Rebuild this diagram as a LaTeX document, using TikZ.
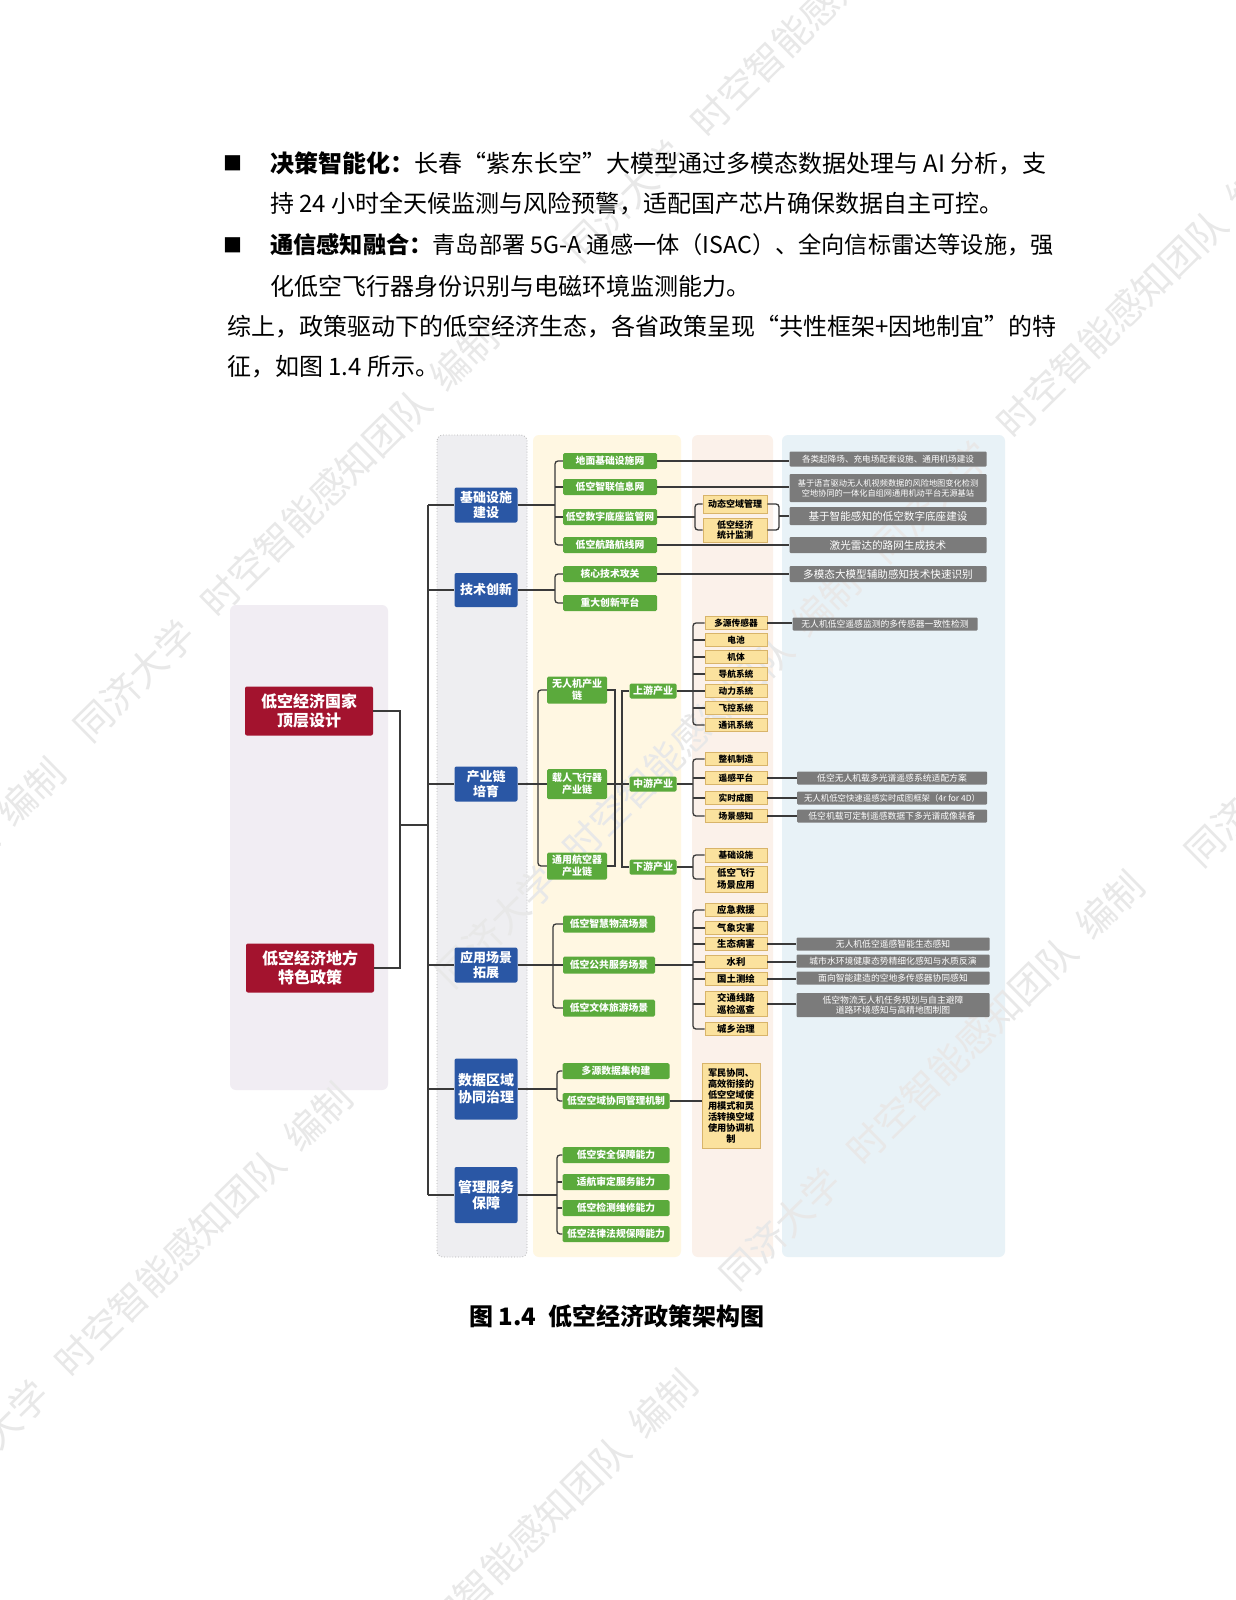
\documentclass[tikz,border=0pt]{standalone}
\usepackage{fontspec}
\setmainfont{Noto Sans CJK SC}
\newcommand\fsz[1]{\fontsize{#1pt}{\dimexpr#1pt*6/5\relax}\selectfont}
\definecolor{gn}{HTML}{5BAA3C}
\definecolor{bl}{HTML}{2A57A5}
\definecolor{rd}{HTML}{A3132E}
\definecolor{yl}{HTML}{FBE29E}
\definecolor{ylb}{HTML}{D8B46A}
\definecolor{gy}{HTML}{7B7B7B}
\definecolor{ln}{HTML}{3A3A3A}
\definecolor{plA}{HTML}{F1EDF3}
\definecolor{plB}{HTML}{EEEEF1}
\definecolor{plC}{HTML}{FFF7E2}
\definecolor{plD}{HTML}{FBF1EA}
\definecolor{plE}{HTML}{E8F2F7}
\tikzset{
 box/.style={inner sep=0pt, align=center, rounded corners=1.5pt},
 gbox/.style={box, fill=gn, text=white, font=\bfseries\fsz{9.8}, minimum height=16pt},
 bbox/.style={box, fill=bl, text=white, font=\bfseries\fsz{13}, minimum width=63pt, rounded corners=2pt},
 rbox/.style={box, fill=rd, text=white, font=\bfseries\fsz{16}, minimum width=128pt, minimum height=49pt, rounded corners=2pt},
 ybox/.style={box, fill=yl, draw=ylb, line width=0.6pt, text=black, font=\bfseries\fsz{8.7}, minimum width=62pt, minimum height=13pt, rounded corners=0pt},
 ebox/.style={box, fill=gy, text=white, font=\fsz{8.6}, rounded corners=1pt},
 conn/.style={draw=ln, line width=1.3pt},
 brk/.style={conn, rounded corners=3pt},
 panel/.style={rounded corners=6pt},
 wm/.style={rotate=44.5, anchor=west, text=black!9, font=\fsz{38}, inner sep=0pt},
 txt/.style={anchor=west, inner sep=0pt, font=\fsz{24}},
}
\newcommand\wmtext{同济大学\hspace{26pt}时空智能感知团队\hspace{18pt}编制}
\begin{document}
\begin{tikzpicture}[x=1pt,y=-1pt]
\useasboundingbox (0,0) rectangle (1236,1600);
\fill[white] (0,0) rectangle (1236,1600);

% ---- panels
\fill[plA, panel] (230,605) rectangle (388,1090);
\filldraw[fill=plB, draw=black!30, dotted, line width=0.8pt, panel] (437,435) rectangle (527,1257);
\fill[plC, panel] (533,435) rectangle (681,1257);
\fill[plD, panel] (692,435) rectangle (773,1257);
\fill[plE, panel] (782,435) rectangle (1005,1257);

% ---- watermarks
\node[wm] (wa) at (80,734) {\wmtext};
\node[wm] (wb) at (442,980) {\wmtext};
\node[wm] (wc) at (570,254) {\wmtext};
\node[wm] (wd) at (876,555) {\wmtext};
\node[wm] (we) at (-353,1169) {\wmtext};
\node[wm] (wf) at (-66,1494) {\wmtext};
\node[wm] (wg) at (726,1282) {\wmtext};
\node[wm] (wh) at (279,1781) {\wmtext};
\node[wm] (wi) at (1191,859) {\wmtext};

% ---- body text
\node[font=\fsz{19}, inner sep=0pt] (bu1) at (233,163) {■};
\node[txt] (t1) at (270,163) {\textbf{决策智能化：}长春“紫东长空”大模型通过多模态数据处理与 AI 分析，支};
\node[txt] (t2) at (270,204) {持 24 小时全天候监测与风险预警，适配国产芯片确保数据自主可控。};
\node[font=\fsz{19}, inner sep=0pt] (bu2) at (233,245) {■};
\node[txt, font=\fsz{23.2}] (t3) at (270,245) {\textbf{通信感知融合：}青岛部署 5G-A 通感一体（ISAC）、全向信标雷达等设施，强};
\node[txt] (t4) at (270,286) {化低空飞行器身份识别与电磁环境监测能力。};
\node[txt] (t5) at (227,327) {综上，政策驱动下的低空经济生态，各省政策呈现“共性框架+因地制宜”的特};
\node[txt] (t6) at (227,367) {征，如图 1.4 所示。};
\node[font=\bfseries\fsz{24}, inner sep=0pt] (cap) at (617,1316) {图 1.4\hspace{12pt}低空经济政策架构图};

% ---- red
\node[rbox] (r1) at (309,711) {低空经济国家\\顶层设计};
\node[rbox] (r2) at (310,968) {低空经济地方\\特色政策};

% ---- blue
\node[bbox, minimum height=35pt] (b1) at (486,505) {基础设施\\建设};
\node[bbox, minimum height=34pt] (b2) at (486,590) {技术创新};
\node[bbox, minimum height=35pt] (b3) at (486,784) {产业链\\培育};
\node[bbox, minimum height=35pt] (b4) at (486,965) {应用场景\\拓展};
\node[bbox, minimum height=61pt, font=\bfseries\fsz{14}] (b5) at (486,1089) {数据区域\\协同治理};
\node[bbox, minimum height=56pt, font=\bfseries\fsz{14}] (b6) at (486,1195) {管理服务\\保障};

% ---- green
\node[gbox, minimum width=94pt] (g1) at (610,461) {地面基础设施网};
\node[gbox, minimum width=94pt] (g2) at (610,487) {低空智联信息网};
\node[gbox, minimum width=94pt] (g3) at (610,517) {低空数字底座监管网};
\node[gbox, minimum width=94pt] (g4) at (610,545) {低空航路航线网};
\node[gbox, minimum width=94pt] (g5) at (610,574) {核心技术攻关};
\node[gbox, minimum width=94pt] (g6) at (610,603) {重大创新平台};

\node[gbox, minimum width=60pt, minimum height=27pt, font=\bfseries\fsz{10}] (c1) at (577,690) {无人机产业\\链};
\node[gbox, minimum width=60pt, minimum height=30pt, font=\bfseries\fsz{10}] (c2) at (577,784) {载人飞行器\\产业链};
\node[gbox, minimum width=60pt, minimum height=27pt, font=\bfseries\fsz{10}] (c3) at (577,866) {通用航空器\\产业链};
\node[gbox, minimum width=47pt, minimum height=15pt, font=\bfseries\fsz{10}] (s1) at (653,691) {上游产业};
\node[gbox, minimum width=47pt, minimum height=15pt, font=\bfseries\fsz{10}] (s2) at (653,784) {中游产业};
\node[gbox, minimum width=47pt, minimum height=15pt, font=\bfseries\fsz{10}] (s3) at (653,867) {下游产业};

\node[gbox, minimum width=92pt, minimum height=17pt] (sc1) at (609,924) {低空智慧物流场景};
\node[gbox, minimum width=92pt, minimum height=17pt] (sc2) at (609,965) {低空公共服务场景};
\node[gbox, minimum width=92pt, minimum height=17pt] (sc3) at (609,1008) {低空文体旅游场景};

\node[gbox, minimum width=107pt] (d1) at (616,1071) {多源数据集构建};
\node[gbox, minimum width=107pt] (d2) at (616,1101) {低空空域协同管理机制};
\node[gbox, minimum width=107pt] (m1) at (616,1155) {低空安全保障能力};
\node[gbox, minimum width=107pt] (m2) at (616,1182) {适航审定服务能力};
\node[gbox, minimum width=107pt] (m3) at (616,1208) {低空检测维修能力};
\node[gbox, minimum width=107pt] (m4) at (616,1234) {低空法律法规保障能力};

% ---- yellow
\node[ybox, minimum width=64pt, minimum height=18pt, font=\bfseries\fsz{9}] (ya) at (735,504) {动态空域管理};
\node[ybox, minimum width=64pt, minimum height=24pt, font=\bfseries\fsz{9}] (yb) at (735,530) {低空经济\\统计监测};

\node[ybox] (u1) at (736,623) {多源传感器};
\node[ybox] (u2) at (736,640) {电池};
\node[ybox] (u3) at (736,657) {机体};
\node[ybox] (u4) at (736,674) {导航系统};
\node[ybox] (u5) at (736,691) {动力系统};
\node[ybox] (u6) at (736,708) {飞控系统};
\node[ybox] (u7) at (736,725) {通讯系统};

\node[ybox] (v1) at (736,759) {整机制造};
\node[ybox] (v2) at (736,778) {遥感平台};
\node[ybox] (v3) at (736,798) {实时成图};
\node[ybox] (v4) at (736,816) {场景感知};

\node[ybox, minimum height=14pt] (w1) at (736,855) {基础设施};
\node[ybox, minimum height=26pt, font=\bfseries\fsz{9.4}] (w2) at (736,879) {低空飞行\\场景应用};

\node[ybox, font=\bfseries\fsz{9.4}] (k1) at (736,910) {应急救援};
\node[ybox, font=\bfseries\fsz{9.4}] (k2) at (736,928) {气象灾害};
\node[ybox, font=\bfseries\fsz{9.4}] (k3) at (736,944) {生态病害};
\node[ybox, font=\bfseries\fsz{9.4}] (k4) at (736,962) {水利};
\node[ybox, font=\bfseries\fsz{9.4}] (k5) at (736,979) {国土测绘};
\node[ybox, minimum height=25pt, font=\bfseries\fsz{9.4}] (k6) at (736,1004) {交通线路\\巡检巡查};
\node[ybox, font=\bfseries\fsz{9.4}] (k7) at (736,1029) {城乡治理};

\node[ybox, minimum width=58pt, minimum height=85pt, font=\bfseries\fsz{9.2}] (tall) at (731,1106) {军民协同、\\高效衔接的\\低空空域使\\用模式和灵\\活转换空域\\使用协调机\\制};

% ---- grey
\node[ebox, minimum width=197pt, minimum height=15pt] (q1) at (888,459) {各类起降场、充电场配套设施、通用机场建设};
\node[ebox, minimum width=197pt, minimum height=28pt, font=\fsz{8.2}] (q2) at (888,488) {基于语言驱动无人机视频数据的风险地图变化检测\\空地协同的一体化自组网通用机动平台无源基站};
\node[ebox, minimum width=197pt, minimum height=18pt, font=\fsz{10.6}] (q3) at (888,516) {基于智能感知的低空数字底座建设};
\node[ebox, minimum width=197pt, minimum height=16pt, font=\fsz{10.6}] (q4) at (888,545) {激光雷达的路网生成技术};
\node[ebox, minimum width=197pt, minimum height=16pt, font=\fsz{10.6}] (q5) at (888,574) {多模态大模型辅助感知技术快速识别};

\node[ebox, minimum width=185pt, minimum height=13pt, font=\fsz{8.8}] (qu1) at (885,624) {无人机低空遥感监测的多传感器一致性检测};
\node[ebox, minimum width=190pt, minimum height=13pt, font=\fsz{8.8}] (qm2) at (892,778) {低空无人机载多光谱遥感系统适配方案};
\node[ebox, minimum width=190pt, minimum height=13pt, font=\fsz{8.4}] (qm3) at (892,798) {无人机低空快速遥感实时成图框架（4r for 4D）};
\node[ebox, minimum width=190pt, minimum height=13pt, font=\fsz{8.8}] (qm4) at (892,816) {低空机载可定制遥感数据下多光谱成像装备};

\node[ebox, minimum width=193pt, minimum height=13pt, font=\fsz{8.8}] (qs1) at (893,944) {无人机低空遥感智能生态感知};
\node[ebox, minimum width=193pt, minimum height=13pt, font=\fsz{8.8}] (qs2) at (893,961) {城市水环境健康态势精细化感知与水质反演};
\node[ebox, minimum width=193pt, minimum height=13pt, font=\fsz{8.8}] (qs3) at (893,978) {面向智能建造的空地多传感器协同感知};
\node[ebox, minimum width=193pt, minimum height=24pt, font=\fsz{8.8}] (qs4) at (893,1005) {低空物流无人机任务规划与自主避障\\道路环境感知与高精地图制图};

% ---- connectors
\coordinate (J) at (400,825);
\coordinate (T) at (428,825);
\draw[conn] (r1.east) -| (J) -- (T);
\draw[conn] (r2.east) -| (J);
\draw[conn] (b1.west -| T) -- (b6.west -| T);
\foreach \i in {1,...,6} \draw[conn] (b\i.west -| T) -- (b\i.west);

\coordinate (xa) at (555,0);
\coordinate (xb) at (695,0);
\coordinate (xc) at (779,0);
\coordinate (xd) at (538,0);
\coordinate (xe) at (615,0);
\coordinate (xf) at (622,0);
\coordinate (xg) at (693,0);
\coordinate (xh) at (553,0);
\coordinate (xi) at (557,0);

% infrastructure
\draw[conn] (b1.east) -- (b1.east -| xa);
\draw[brk] (g1.west) -- (g1.west -| xa) -- (g4.west -| xa) -- (g4.west);
\draw[conn] (g2.west -| xa) -- (g2.west);
\draw[conn] (g3.west -| xa) -- (g3.west);
\draw[conn] (g1.east) -- (g1.east -| q1.west);
\draw[conn] (g2.east) -- (g2.east -| q2.west);
\draw[conn] (g3.east) -- (g3.east -| xb);
\draw[brk] (ya.west) -- (ya.west -| xb) -- (yb.west -| xb) -- (yb.west);
\draw[brk] (ya.east) -- (ya.east -| xc) -- (yb.east -| xc) -- (yb.east);
\draw[conn] (q3.west -| xc) -- (q3.west);
\draw[conn] (g4.east) -- (g4.east -| q4.west);
% technology
\draw[conn] (b2.east) -- (b2.east -| xa);
\draw[brk] (g5.west) -- (g5.west -| xa) -- (g6.west -| xa) -- (g6.west);
\draw[conn] (g5.east) -- (g5.east -| q5.west);
% industry chain
\draw[conn] (b3.east) -- (c2.west);
\draw[brk] (c1.west) -- (c1.west -| xd) -- (c3.west -| xd) -- (c3.west);
\draw[conn] (c1.east) -- (c1.east -| xe) -- (c3.east -| xe) -- (c3.east);
\draw[conn] (c2.east) -- (s2.west);
\draw[conn] (s1.west) -- (s1.west -| xf) -- (s3.west -| xf) -- (s3.west);
\draw[conn] (s1.east) -- (s1.east -| xg);
\draw[brk] (u1.west) -- (u1.west -| xg) -- (u7.west -| xg) -- (u7.west);
\foreach \n in {u2,u3,u4,u5,u6} \draw[conn] (\n.west -| xg) -- (\n.west);
\draw[conn] (s2.east) -- (s2.east -| xg);
\draw[brk] (v1.west) -- (v1.west -| xg) -- (v4.west -| xg) -- (v4.west);
\foreach \n in {v2,v3} \draw[conn] (\n.west -| xg) -- (\n.west);
\draw[conn] (s3.east) -- (s3.east -| xg);
\draw[brk] (w1.west) -- (w1.west -| xg) -- (w2.west -| xg) -- (w2.west);
\draw[conn] (u1.east) -- (u1.east -| qu1.west);
\draw[conn] (v2.east) -- (v2.east -| qm2.west);
\draw[conn] (v3.east) -- (v3.east -| qm3.west);
\draw[conn] (v4.east) -- (v4.east -| qm4.west);
% scenes
\draw[conn] (b4.east) -- (sc2.west);
\draw[brk] (sc1.west) -- (sc1.west -| xh) -- (sc3.west -| xh) -- (sc3.west);
\draw[conn] (sc2.east) -- (sc2.east -| xg);
\draw[brk] (k1.west) -- (k1.west -| xg) -- (k7.west -| xg) -- (k7.west);
\foreach \n in {k2,k3,k4,k5,k6} \draw[conn] (\n.west -| xg) -- (\n.west);
\draw[conn] (k3.east) -- (k3.east -| qs1.west);
\draw[conn] (k4.east) -- (k4.east -| qs2.west);
\draw[conn] (k5.east) -- (k5.east -| qs3.west);
\draw[conn] (k6.east) -- (k6.east -| qs4.west);
% data governance
\draw[conn] (b5.east) -- (b5.east -| xi);
\draw[brk] (d1.west) -- (d1.west -| xi) -- (d2.west -| xi) -- (d2.west);
\draw[conn] (d2.east) -- (d2.east -| tall.west);
% management
\draw[conn] (b6.east) -- (b6.east -| xi);
\draw[brk] (m1.west) -- (m1.west -| xi) -- (m4.west -| xi) -- (m4.west);
\foreach \n in {m2,m3} \draw[conn] (\n.west -| xi) -- (\n.west);
\end{tikzpicture}
\end{document}
